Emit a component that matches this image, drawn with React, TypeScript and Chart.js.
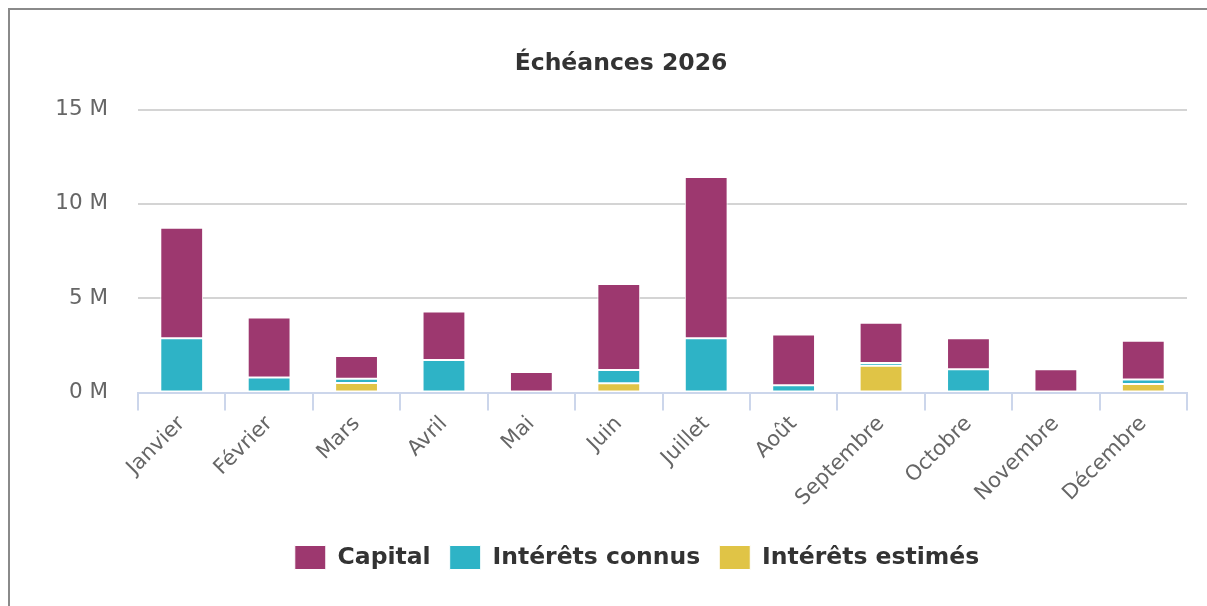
import React, { useEffect, useRef } from 'react';
import { Chart, registerables } from 'chart.js';

Chart.register(...registerables);

const months = ['Janvier', 'Février', 'Mars', 'Avril', 'Mai', 'Juin', 'Juillet', 'Août', 'Septembre', 'Octobre', 'Novembre', 'Décembre'];
// values in millions
const capital = [5.86, 3.18, 1.2, 2.58, 1.09, 4.56, 8.56, 2.7, 2.13, 1.64, 1.23, 2.05];
const interetsConnus = [2.87, 0.8, 0.23, 1.72, 0, 0.7, 2.87, 0.38, 0.15, 1.23, 0, 0.24];
const interetsEstimes = [0, 0, 0.5, 0, 0, 0.49, 0, 0, 1.42, 0, 0, 0.45];
const yTicks = [0, 5, 10, 15];
const titleText = 'Échéances 2026';

const FONT = "'DejaVu Sans', Verdana, sans-serif";

export default function App() {
  const ref = useRef<HTMLCanvasElement | null>(null);

  useEffect(() => {
    if (!ref.current) return;
    const legendShift = {
      id: 'legendShift',
      afterLayout(chart: any) {
        const l = chart.legend;
        if (l) {
          l.left += 16;
          l.right += 16;
        }
      },
    };
    const chart = new Chart(ref.current, {
      type: 'bar',
      data: {
        labels: months,
        datasets: [
          {
            label: 'Intérêts estimés',
            data: interetsEstimes,
            backgroundColor: '#e0c446',
            borderColor: '#ffffff',
            borderWidth: 1,
            borderSkipped: false,
          },
          {
            label: 'Intérêts connus',
            data: interetsConnus,
            backgroundColor: '#2eb3c6',
            borderColor: '#ffffff',
            borderWidth: 1,
            borderSkipped: false,
          },
          {
            label: 'Capital',
            data: capital,
            backgroundColor: '#9d386f',
            borderColor: '#ffffff',
            borderWidth: 1,
            borderSkipped: false,
          },
        ],
      },
      options: {
        responsive: false,
        animation: false,
        devicePixelRatio: 1,
        layout: { padding: { left: 45, right: 20, top: 0, bottom: 26.5 } },
        datasets: { bar: { categoryPercentage: 1, barPercentage: 0.49 } },
        plugins: {
          tooltip: { enabled: false },
          title: {
            display: true,
            text: titleText,
            color: '#333333',
            font: { family: FONT, size: 23.5, weight: 'bold' },
            padding: { top: 40, bottom: 31.4 },
          },
          legend: {
            display: true,
            position: 'bottom',
            reverse: true,
            labels: {
              color: '#333333',
              font: { family: FONT, size: 23.5, weight: 'bold' },
              boxWidth: 31,
              boxHeight: 24,
              padding: 19,
            },
          },
        },
        scales: {
          x: {
            stacked: true,
            afterFit(scale: any) {
              scale.height = 134;
            },
            grid: {
              offset: true,
              drawOnChartArea: false,
              drawTicks: true,
              tickLength: 18,
              color: '#ccd6eb',
              lineWidth: 2,
            },
            border: { display: true, color: '#ccd6eb', width: 2 },
            ticks: {
              autoSkip: false,
              maxRotation: 45,
              minRotation: 45,
              padding: 1,
              color: '#666666',
              font: { family: FONT, size: 21 },
            },
          },
          y: {
            stacked: true,
            min: 0,
            max: 15,
            afterFit(scale: any) {
              scale.width = 83;
            },
            afterBuildTicks(scale: any) {
              scale.ticks = yTicks.map((v) => ({ value: v }));
            },
            grid: {
              drawTicks: false,
              lineWidth: 2,
              color: (ctx: any) => (ctx.tick && ctx.tick.value === 0 ? 'rgba(0,0,0,0)' : '#d4d4d4'),
            },
            border: { display: false },
            ticks: {
              padding: 30,
              color: '#666666',
              font: { family: FONT, size: 21.5 },
              callback: (v: any) => v + ' M',
            },
          },
        },
      },
      plugins: [legendShift],
    } as any);
    return () => chart.destroy();
  }, []);

  return (
    <div
      style={{
        position: 'absolute',
        top: 8,
        left: 8,
        width: 1199,
        height: 598,
        boxSizing: 'border-box',
        borderTop: '2px solid #8a8a8a',
        borderLeft: '2px solid #8a8a8a',
        background: '#fff',
      }}
    >
      <canvas ref={ref} width={1197} height={596} style={{ display: 'block' }} />
    </div>
  );
}
